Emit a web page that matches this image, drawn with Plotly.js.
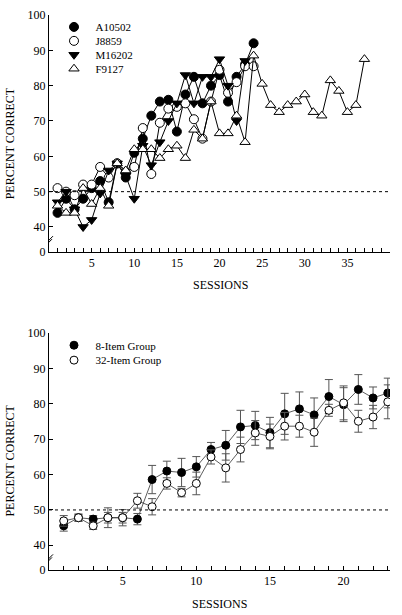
<!DOCTYPE html>
<html><head><meta charset="utf-8">
<script src="https://cdn.plot.ly/plotly-3.0.1.min.js"></script>
<style>html,body{margin:0;padding:0;background:#fff}</style>
</head><body><div id="chart" style="width:402px;height:615px"></div>
<script>
// ---- Data: top panel (individual subjects) ----
const sessA = [1,2,3,4,5,6,7,8,9,10,11,12,13,14,15,16,17,18,19,20,21,22,23,24];
const A10502 = [44,48,45,48,51,53,47,58,54,61,65,71.5,75.5,76,67,77.5,82.5,75,80,83,75.5,82.5,86,92];
const sessJ = [1,2,3,4,5,6,7,8,9,10,11,12,13,14,15,16,17,18,19,20,21,22,23,24];
const J8859 = [51,50,49,52,52,57,54,58,55.5,57,68,55,69.5,73.5,74,75,70.5,65,75.5,84.5,78,81,85.5,85.5];
const sessM = [1,2,3,4,5,6,7,8,9,10,11,12,13,14,15,16,17,18,19,20,21,22,23];
const M16202 = [47,50,45,40,42,49.5,56,58,54.5,48,63,57.5,64,70,75,83,75,82.5,82.5,87.5,80,70,87];
const sessF = [1,2,3,4,5,6,7,8,9,10,11,12,13,14,15,16,17,18,19,20,21,22,23,24,25,26,27,28,29,30,31,32,33,34,35,36,37];
const F9127 = [46,44,44,51,46.5,51,46,58,56,62,62,62,59.5,62,63,59.5,67.5,65,75.5,66.5,66.5,71.5,64,88.5,80.5,74.5,72.5,74.5,75.5,77.5,72.5,71.5,81.5,78.5,72.5,74.5,87.5];

// ---- Data: bottom panel (group means +/- error) ----
const groupSessions = [1,2,3,4,5,6,7,8,9,10,11,12,13,14,15,16,17,18,19,20,21,22,23];
const item8 = [45.5,47.8,47.4,47.8,47.8,47.4,58.6,61,60.6,62.2,67.1,68.3,73.5,73.9,71.9,77.2,78.6,76.9,82.1,79.8,84.1,81.7,83.1];
const item8Err = [1.5,1,1,1.5,1.5,1.6,4,2.8,4,2.9,2,4.2,4.7,4,4.3,5.8,4.8,4.8,4.8,4.8,4.2,3.1,4.2];
const item32 = [46.9,47.8,45.5,47.8,47.8,52.6,50.9,57.5,54.9,57.5,65,61.9,67.1,71.8,70.8,73.7,73.7,72,78.2,80.3,75.1,76.3,80.6];
const item32Err = [1.5,1,1,2.8,2.3,2.1,2.3,1.6,1.2,3.2,2,4,3.5,3.5,3.5,3.9,3.1,4,1.7,4.8,3.1,3.3,4.8];

// ---- Axis tick labels ----
const yTickVals = [33,40,50,60,70,80,90,100];
const yTickText = ['0','40','50','60','70','80','90','100'];
const topXTicks = Array.from({length:39},(_, i)=>i+1);
const botXTicks = Array.from({length:23},(_, i)=>i+1);
const lab = v => (v % 5 === 0 ? String(v) : '');

const FONT = '"Liberation Serif", "Times New Roman", serif';
const L=49, R=390, T=12, B=570;
const px = x => (x-L)/(R-L);
const py = y => (B-y)/(B-T);

function lineTrace(x, y, xa, ya, color, w){
  return {x, y, xaxis:xa, yaxis:ya, type:'scatter', mode:'lines', showlegend:false,
    line:{color, width:w}, hoverinfo:'skip'};
}
function markTrace(x, y, xa, ya, name, symbol, fill, size, leg, err){
  const t = {x, y, xaxis:xa, yaxis:ya, type:'scatter', mode:'markers', name, legend:leg,
    marker:{symbol, size, color:fill, line:{color:'#000', width:1}}};
  if (err) t.error_y = {type:'data', array:err, visible:true, color:'#555', thickness:1, width:4};
  return t;
}

const data = [
  lineTrace(sessA, A10502, 'x', 'y', '#000', 1),
  markTrace(sessA, A10502, 'x', 'y', 'A10502', 'circle', '#000', 9, 'legend'),
  lineTrace(sessJ, J8859, 'x', 'y', '#000', 1),
  markTrace(sessJ, J8859, 'x', 'y', 'J8859', 'circle', '#fff', 9, 'legend2'),
  lineTrace(sessM, M16202, 'x', 'y', '#000', 1),
  markTrace(sessM, M16202, 'x', 'y', 'M16202', 'triangle-down', '#000', 9, 'legend3'),
  lineTrace(sessF, F9127, 'x', 'y', '#000', 1),
  markTrace(sessF, F9127, 'x', 'y', 'F9127', 'triangle-up', '#fff', 9, 'legend4'),
  lineTrace(groupSessions, item8, 'x2', 'y2', '#333', 0.8),
  markTrace(groupSessions, item8, 'x2', 'y2', '8-Item Group', 'circle', '#000', 8, 'legend5', item8Err),
  lineTrace(groupSessions, item32, 'x2', 'y2', '#333', 0.8),
  markTrace(groupSessions, item32, 'x2', 'y2', '32-Item Group', 'circle', '#fff', 8, 'legend6', item32Err)
];

const axBase = {showline:true, linecolor:'#000', linewidth:1, showgrid:false, zeroline:false,
  ticks:'inside', ticklen:4, tickcolor:'#000', tickwidth:1,
  tickfont:{family:FONT, size:12, color:'#000'}};

function leg(xpx, ypx){
  return {x:px(xpx), y:py(ypx), xref:'paper', yref:'paper', xanchor:'left', yanchor:'middle',
    itemwidth:33, bgcolor:'rgba(0,0,0,0)', borderwidth:0, font:{family:FONT, size:11, color:'#000'}};
}
const legX = 52.5;

const annFont = {family:FONT, size:12, color:'#000'};
const layout = {
  width:402, height:615,
  margin:{l:L, r:402-R, t:T, b:615-B},
  paper_bgcolor:'#fff', plot_bgcolor:'#fff',
  showlegend:true,
  xaxis: Object.assign({}, axBase, {domain:[0,1], anchor:'y', range:[0,40],
    tickvals:topXTicks, ticktext:topXTicks.map(lab)}),
  yaxis: Object.assign({}, axBase, {domain:[py(250),1], anchor:'x', range:[33,100],
    tickvals:yTickVals, ticktext:yTickText}),
  xaxis2: Object.assign({}, axBase, {domain:[0,1], anchor:'y2', range:[0,23.15],
    tickvals:botXTicks, ticktext:botXTicks.map(lab)}),
  yaxis2: Object.assign({}, axBase, {domain:[0,py(332)], anchor:'x2', range:[33,100],
    tickvals:yTickVals, ticktext:yTickText}),
  legend: leg(legX, 24), legend2: leg(legX, 38), legend3: leg(legX, 52), legend4: leg(legX, 66),
  legend5: leg(legX, 344), legend6: leg(legX, 359),
  shapes: [
    {type:'line', xref:'x domain', yref:'y', x0:0, x1:1, y0:50, y1:50, line:{color:'#000', width:1, dash:'dot'}},
    {type:'line', xref:'x2 domain', yref:'y2', x0:0, x1:1, y0:50, y1:50, line:{color:'#000', width:1, dash:'dot'}},
    {type:'line', xref:'x', yref:'y', xsizemode:'pixel', ysizemode:'pixel', xanchor:0, yanchor:36, x0:-4, x1:3, y0:-5, y1:2, line:{color:'#000', width:1}},
    {type:'line', xref:'x', yref:'y', xsizemode:'pixel', ysizemode:'pixel', xanchor:0, yanchor:36, x0:-3, x1:4, y0:-2, y1:5, line:{color:'#000', width:1}},
    {type:'line', xref:'x2', yref:'y2', xsizemode:'pixel', ysizemode:'pixel', xanchor:0, yanchor:36, x0:-4, x1:3, y0:-5, y1:2, line:{color:'#000', width:1}},
    {type:'line', xref:'x2', yref:'y2', xsizemode:'pixel', ysizemode:'pixel', xanchor:0, yanchor:36, x0:-3, x1:4, y0:-2, y1:5, line:{color:'#000', width:1}}
  ],
  annotations: [
    {text:'PERCENT CORRECT', xref:'paper', yref:'paper', x:px(10), y:py(141), xanchor:'center', yanchor:'middle', textangle:-90, showarrow:false, font:annFont},
    {text:'PERCENT CORRECT', xref:'paper', yref:'paper', x:px(10), y:py(460), xanchor:'center', yanchor:'middle', textangle:-90, showarrow:false, font:annFont},
    {text:'SESSIONS', xref:'paper', yref:'paper', x:px(220), y:py(283), xanchor:'center', yanchor:'middle', showarrow:false, font:annFont},
    {text:'SESSIONS', xref:'paper', yref:'paper', x:px(219), y:py(604), xanchor:'center', yanchor:'middle', showarrow:false, font:annFont}
  ]
};

Plotly.newPlot('chart', data, layout, {displayModeBar:false, staticPlot:true});
</script></body></html>
